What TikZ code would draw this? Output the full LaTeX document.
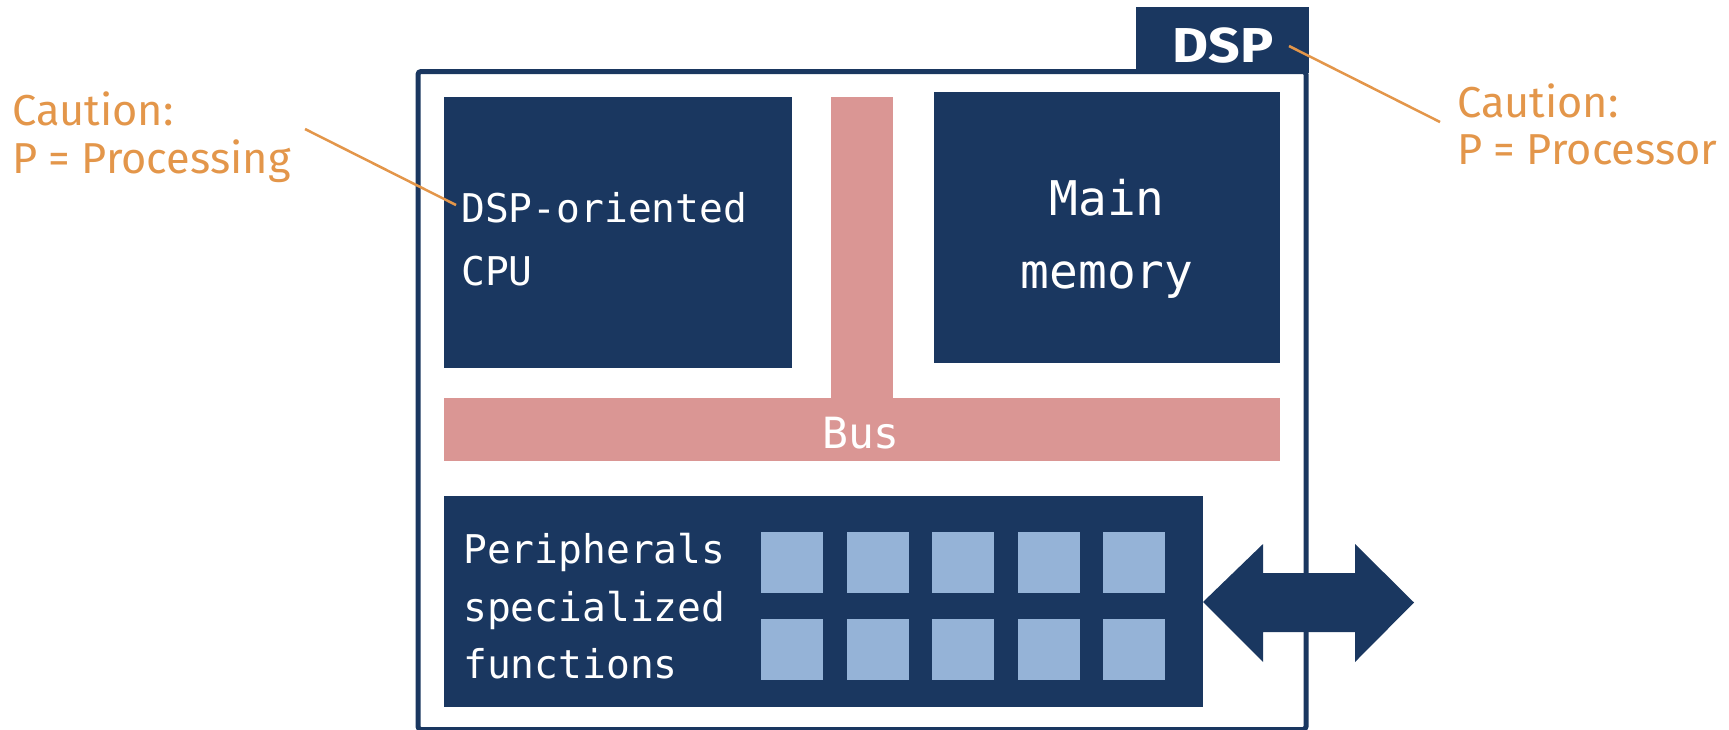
\documentclass[tikz,border=0pt]{standalone}
\usepackage{fontspec}
\usepackage{graphicx}
\setmainfont{Fira Sans}
\newfontfamily\monofont{DejaVu Sans Mono}
\definecolor{dblue}{RGB}{26,55,96}
\definecolor{busred}{RGB}{218,150,148}
\definecolor{lblue}{RGB}{149,179,215}
\definecolor{corange}{RGB}{227,150,74}
\tikzset{
  darkbox/.style={fill=dblue, draw=none, inner sep=0pt, anchor=north west},
  busbox/.style={fill=busred, draw=none, inner sep=0pt, anchor=north west},
  cell/.style={fill=lblue, draw=none, inner sep=0pt, anchor=north west, minimum width=62pt, minimum height=61pt},
  monotxt/.style={text=white, inner sep=0pt, anchor=base west, font=\monofont\fontsize{39.6}{47}\selectfont},
  bigmono/.style={text=white, inner sep=0pt, anchor=base, font=\monofont\fontsize{47.8}{56}\selectfont},
  caution/.style={text=corange, inner sep=0pt, anchor=base west, font=\fontsize{43.3}{50}\selectfont},
  leader/.style={draw=corange, line width=2.5pt},
}
\begin{document}
\begin{tikzpicture}[x=1pt,y=-1pt]
\useasboundingbox (0,0) rectangle (1729,729);
% tab
\node[darkbox, minimum width=173pt, minimum height=66pt] (tab) at (1136,7) {};
% outer frame
\draw[dblue, line width=5pt, rounded corners=3pt] (418,71.5) rectangle (1306,729.5);
\node[text=white, inner sep=0pt, anchor=base, font=\bfseries\fontsize{49}{56}\selectfont] (dsp) at (1223,62) {\scalebox{1.13}[1]{DSP}};
% blocks
\node[darkbox, minimum width=348pt, minimum height=271pt] (cpu) at (444,97) {};
\node[darkbox, minimum width=346pt, minimum height=271pt] (mem) at (934,92) {};
\node[busbox, minimum width=62pt, minimum height=302pt] (busv) at (831,97) {};
\node[busbox, minimum width=836pt, minimum height=63pt] (bush) at (444,398) {};
\node[darkbox, minimum width=759pt, minimum height=211pt] (per) at (444,496) {};
% cells
\foreach \i in {0,...,4}{
  \node[cell] (ca\i) at ({761+85.5*\i},532) {};
  \node[cell] (cb\i) at ({761+85.5*\i},619) {};
}
% texts
\node[monotxt] (cpuA) at (461,222) {DSP-oriented};
\node[monotxt] (cpuB) at (461,285) {CPU};
\node[bigmono] (memA) at (1107,215) {Main};
\node[bigmono] (memB) at (1107,288) {memory};
\node[text=white, inner sep=0pt, anchor=base, font=\monofont\fontsize{43}{50}\selectfont] (bustxt) at (861,448) {Bus};
\node[monotxt] (perA) at (463,563) {Peripherals};
\node[monotxt] (perB) at (463,621) {specialized};
\node[monotxt] (perC) at (463,678) {functions};
% double arrow
\fill[dblue] (1203,602) -- (1263,544) -- (1263,573) -- (1355,573) -- (1355,544)
  -- (1414,602.5) -- (1355,662) -- (1355,632) -- (1263,632) -- (1263,662) -- cycle;
% cautions
\node[caution] (clA) at (12,125) {Caution:};
\node[caution] (clB) at (12,173) {P = Processing};
\node[caution] (crA) at (1457,117) {Caution:};
\node[caution] (crB) at (1457,164) {P = Processor};
% leaders
\coordinate (l1) at (305,129);
\coordinate (l2) at (456,205);
\coordinate (r1) at (1289,46);
\coordinate (r2) at (1440,122);
\draw[leader] (l1) -- (l2);
\draw[leader] (r1) -- (r2);
\end{tikzpicture}
\end{document}
